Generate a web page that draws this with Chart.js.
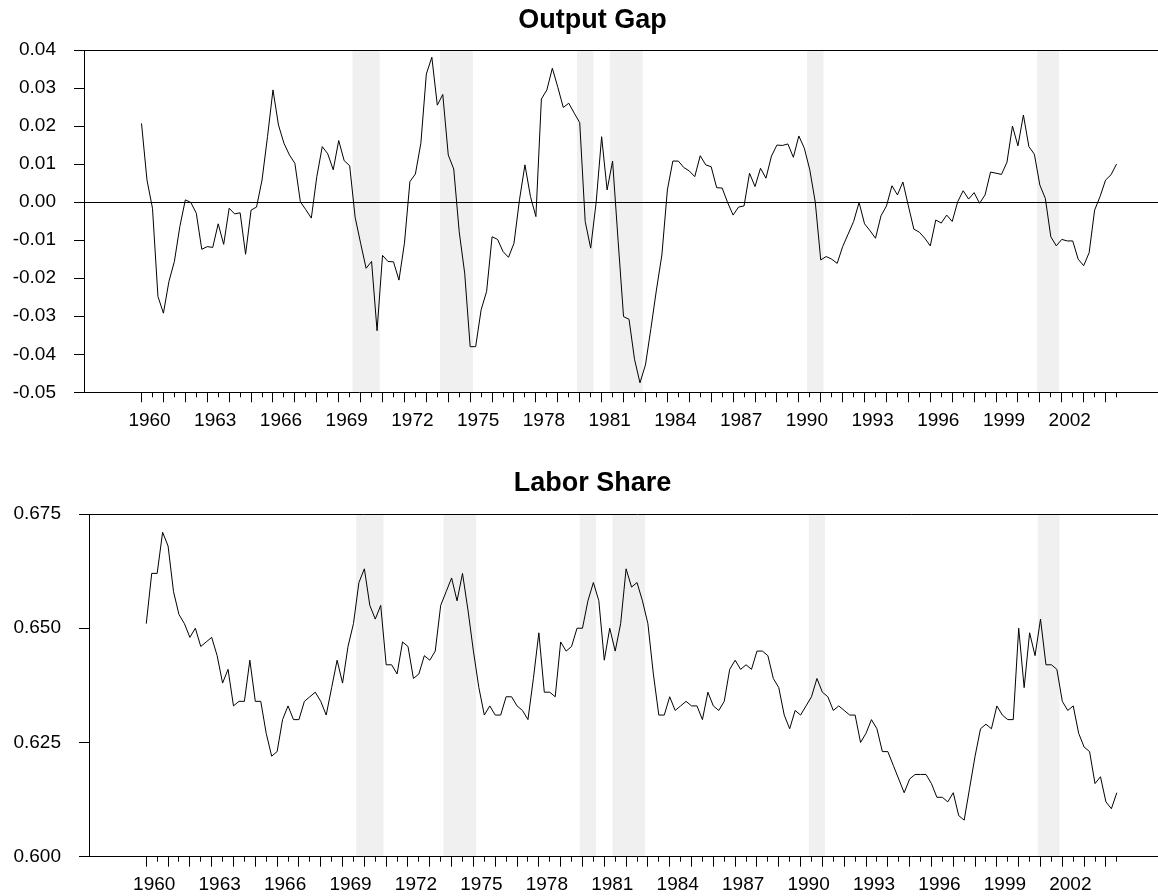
<!DOCTYPE html>
<html>
<head>
<meta charset="utf-8">
<script src="https://cdn.jsdelivr.net/npm/chart.js@4.4.1/dist/chart.umd.min.js"></script>
<style>
  html, body { margin: 0; padding: 0; background: #fff; overflow: hidden; }
  #wrap { position: relative; width: 1158px; height: 896px; overflow: hidden; }
  canvas { position: absolute; left: 0; }
</style>
</head>
<body>
<div id="wrap">
  <canvas id="gapChart" width="1185" height="444" style="top:0"></canvas>
  <canvas id="shareChart" width="1185" height="452" style="top:444px"></canvas>
</div>
<script>
var startYear = 1960;

// quarterly, 1960Q1 .. 2004Q3
var outputGap = [
  0.0207, 0.0058, -0.0016, -0.0248, -0.0292, -0.0209, -0.0156, -0.0064,
  0.0006, -0.0001, -0.0029, -0.0124, -0.0117, -0.0119, -0.0057, -0.0111,
  -0.0016, -0.0031, -0.0028, -0.0137, -0.0021, -0.0013, 0.0058, 0.0172,
  0.0295, 0.0203, 0.0155, 0.0124, 0.0102, 0.0001, -0.0020, -0.0042,
  0.0067, 0.0146, 0.0127, 0.0085, 0.0162, 0.0109, 0.0096, -0.0040,
  -0.0108, -0.0174, -0.0156, -0.0338, -0.0140, -0.0156, -0.0157, -0.0205,
  -0.0108, 0.0054, 0.0074, 0.0155, 0.0337, 0.0381, 0.0255, 0.0283,
  0.0124, 0.0087, -0.0078, -0.0187, -0.0380, -0.0380, -0.0283, -0.0235,
  -0.0091, -0.0098, -0.0130, -0.0145, -0.0108, 0.0006, 0.0098, 0.0015,
  -0.0038, 0.0271, 0.0295, 0.0352, 0.0302, 0.0249, 0.0260, 0.0234,
  0.0209, -0.0051, -0.0121, 0.0000, 0.0172, 0.0032, 0.0108, -0.0100,
  -0.0301, -0.0308, -0.0413, -0.0475, -0.0428, -0.0332, -0.0231, -0.0139,
  0.0032, 0.0108, 0.0108, 0.0091, 0.0082, 0.0067, 0.0122, 0.0098,
  0.0093, 0.0038, 0.0037, -0.0001, -0.0034, -0.0013, -0.0010, 0.0076,
  0.0041, 0.0089, 0.0063, 0.0121, 0.0150, 0.0149, 0.0153, 0.0118,
  0.0174, 0.0142, 0.0085, 0.0000, -0.0152, -0.0143, -0.0150, -0.0161,
  -0.0117, -0.0084, -0.0051, -0.0001, -0.0057, -0.0075, -0.0095, -0.0036,
  -0.0010, 0.0043, 0.0019, 0.0053, -0.0010, -0.0071, -0.0079, -0.0095,
  -0.0115, -0.0047, -0.0055, -0.0034, -0.0051, 0.0001, 0.0030, 0.0008,
  0.0025, -0.0003, 0.0019, 0.0079, 0.0076, 0.0073, 0.0105, 0.0200,
  0.0148, 0.0229, 0.0146, 0.0126, 0.0045, 0.0010, -0.0091, -0.0115,
  -0.0098, -0.0102, -0.0102, -0.0150, -0.0167, -0.0133, -0.0021, 0.0015,
  0.0058, 0.0072, 0.0100
];

var laborShare = [
  0.651, 0.662, 0.662, 0.671, 0.668, 0.658, 0.653, 0.651,
  0.648, 0.650, 0.646, 0.647, 0.648, 0.644, 0.638, 0.641,
  0.633, 0.634, 0.634, 0.643, 0.634, 0.634, 0.627, 0.622,
  0.623, 0.630, 0.633, 0.630, 0.630, 0.634, 0.635, 0.636,
  0.634, 0.631, 0.637, 0.643, 0.638, 0.646, 0.651, 0.660,
  0.663, 0.655, 0.652, 0.655, 0.642, 0.642, 0.640, 0.647,
  0.646, 0.639, 0.640, 0.644, 0.643, 0.645, 0.655, 0.658,
  0.661, 0.656, 0.662, 0.654, 0.645, 0.637, 0.631, 0.633,
  0.631, 0.631, 0.635, 0.635, 0.633, 0.632, 0.630, 0.639,
  0.649, 0.636, 0.636, 0.635, 0.647, 0.645, 0.646, 0.650,
  0.650, 0.656, 0.660, 0.656, 0.643, 0.650, 0.645, 0.651,
  0.663, 0.659, 0.660, 0.656, 0.651, 0.640, 0.631, 0.631,
  0.635, 0.632, 0.633, 0.634, 0.633, 0.633, 0.630, 0.636,
  0.633, 0.632, 0.634, 0.641, 0.643, 0.641, 0.642, 0.641,
  0.645, 0.645, 0.644, 0.639, 0.637, 0.631, 0.628, 0.632,
  0.631, 0.633, 0.635, 0.639, 0.636, 0.635, 0.632, 0.633,
  0.632, 0.631, 0.631, 0.625, 0.627, 0.630, 0.628, 0.623,
  0.623, 0.620, 0.617, 0.614, 0.617, 0.618, 0.618, 0.618,
  0.616, 0.613, 0.613, 0.612, 0.614, 0.609, 0.608, 0.615,
  0.622, 0.628, 0.629, 0.628, 0.633, 0.631, 0.630, 0.630,
  0.650, 0.637, 0.649, 0.644, 0.652, 0.642, 0.642, 0.641,
  0.634, 0.632, 0.633, 0.627, 0.624, 0.623, 0.616, 0.6175,
  0.612, 0.6105, 0.614
];

// NBER recessions, peak .. trough
var recessions = [
  ["1969Q4", "1970Q4"], ["1973Q4", "1975Q1"], ["1980Q1", "1980Q3"],
  ["1981Q3", "1982Q4"], ["1990Q3", "1991Q1"], ["2001Q1", "2001Q4"]
];

var gapTicks = [-0.05, -0.04, -0.03, -0.02, -0.01, 0.00, 0.01, 0.02, 0.03, 0.04];
var shareTicks = [0.600, 0.625, 0.650, 0.675];

var lastIndex = outputGap.length - 1;
var xMin = -10.5, xMax = 190.5;
var fontFamily = 'Arial, "Liberation Sans", Helvetica, sans-serif';

function quarterIndex(q) {
  var parts = q.split("Q");
  return (parseInt(parts[0], 10) - startYear) * 4 + parseInt(parts[1], 10) - 1;
}

function toPoints(values) {
  return values.map(function (v, i) { return { x: i, y: v }; });
}

// year ticks (long) and mid-year ticks (short)
var yearTicks = [], halfTicks = [];
for (var i = 0; i <= lastIndex; i += 2) {
  if (i % 4 === 0) yearTicks.push(i); else halfTicks.push(i);
}

var shadePlugin = {
  id: "recessionShade",
  beforeDraw: function (chart) {
    var xs = chart.scales.x, area = chart.chartArea, ctx = chart.ctx;
    ctx.save();
    ctx.fillStyle = "#f0f0f0";
    recessions.forEach(function (r) {
      var a = xs.getPixelForValue(quarterIndex(r[0]) - 0.5);
      var b = xs.getPixelForValue(quarterIndex(r[1]) + 0.5);
      ctx.fillRect(a, area.top, b - a, area.bottom - area.top);
    });
    ctx.restore();
  }
};

function makeChart(id, cfg) {
  var yMin = cfg.ticks[0], yMax = cfg.ticks[cfg.ticks.length - 1];
  return new Chart(document.getElementById(id).getContext("2d"), {
    type: "line",
    data: {
      datasets: [{
        data: toPoints(cfg.values),
        borderColor: "#000",
        borderWidth: 1,
        pointRadius: 0,
        tension: 0,
        xAxisID: "x",
        yAxisID: "y"
      }]
    },
    plugins: [shadePlugin],
    options: {
      responsive: false,
      animation: false,
      events: [],
      layout: { padding: 0 },
      plugins: {
        legend: { display: false },
        tooltip: { enabled: false },
        title: {
          display: true,
          text: cfg.title,
          color: "#000",
          font: { family: fontFamily, size: 27, weight: "bold" },
          padding: { top: cfg.titleTop, bottom: cfg.titleBottom }
        }
      },
      scales: {
        x: {
          type: "linear",
          position: "bottom",
          weight: 1,
          min: xMin,
          max: xMax,
          afterBuildTicks: function (s) { s.ticks = yearTicks.map(function (v) { return { value: v }; }); },
          afterFit: function (s) { s.height = cfg.xHeight; },
          ticks: {
            autoSkip: false,
            maxRotation: 0,
            labelOffset: 8,
            padding: 7,
            color: "#000",
            font: { family: fontFamily, size: 19 },
            callback: function (v) { return v % 12 === 0 ? String(startYear + v / 4) : ""; }
          },
          grid: { drawOnChartArea: false, tickLength: 10, tickColor: "#000", tickWidth: 1 },
          border: { color: "#000", width: 1 }
        },
        xs: {
          type: "linear",
          position: "bottom",
          weight: 0,
          min: xMin,
          max: xMax,
          afterBuildTicks: function (s) { s.ticks = halfTicks.map(function (v) { return { value: v }; }); },
          afterFit: function (s) { s.height = 0; },
          ticks: { autoSkip: false, maxRotation: 0, callback: function () { return ""; } },
          grid: { drawOnChartArea: false, tickLength: 5, tickColor: "#000", tickWidth: 1 },
          border: { display: false }
        },
        y: {
          min: yMin,
          max: yMax,
          afterBuildTicks: function (s) { s.ticks = cfg.ticks.map(function (v) { return { value: v }; }); },
          afterFit: function (s) { s.width = cfg.yWidth; },
          ticks: {
            padding: 18,
            color: "#000",
            font: { family: fontFamily, size: 19 },
            callback: function (v) { return v.toFixed(cfg.decimals); }
          },
          grid: {
            tickLength: 10,
            tickColor: "#000",
            lineWidth: 1,
            color: function (c) {
              if (!c.tick) return "rgba(0,0,0,0)";
              var v = c.tick.value;
              if (Math.abs(v - yMax) < 1e-9) return "#000";
              if (cfg.zeroLine && Math.abs(v) < 1e-9) return "#000";
              return "rgba(0,0,0,0)";
            }
          },
          border: { color: "#000", width: 1 }
        }
      }
    }
  });
}

makeChart("gapChart", {
  title: "Output Gap",
  values: outputGap,
  ticks: gapTicks,
  decimals: 2,
  zeroLine: true,
  yWidth: 84,
  xHeight: 51.7,
  titleTop: 4.3,
  titleBottom: 13.3
});

makeChart("shareChart", {
  title: "Labor Share",
  values: laborShare,
  ticks: shareTicks,
  decimals: 3,
  zeroLine: false,
  yWidth: 89,
  xHeight: 39.3,
  titleTop: 23.3,
  titleBottom: 14.3
});
</script>
</body>
</html>
